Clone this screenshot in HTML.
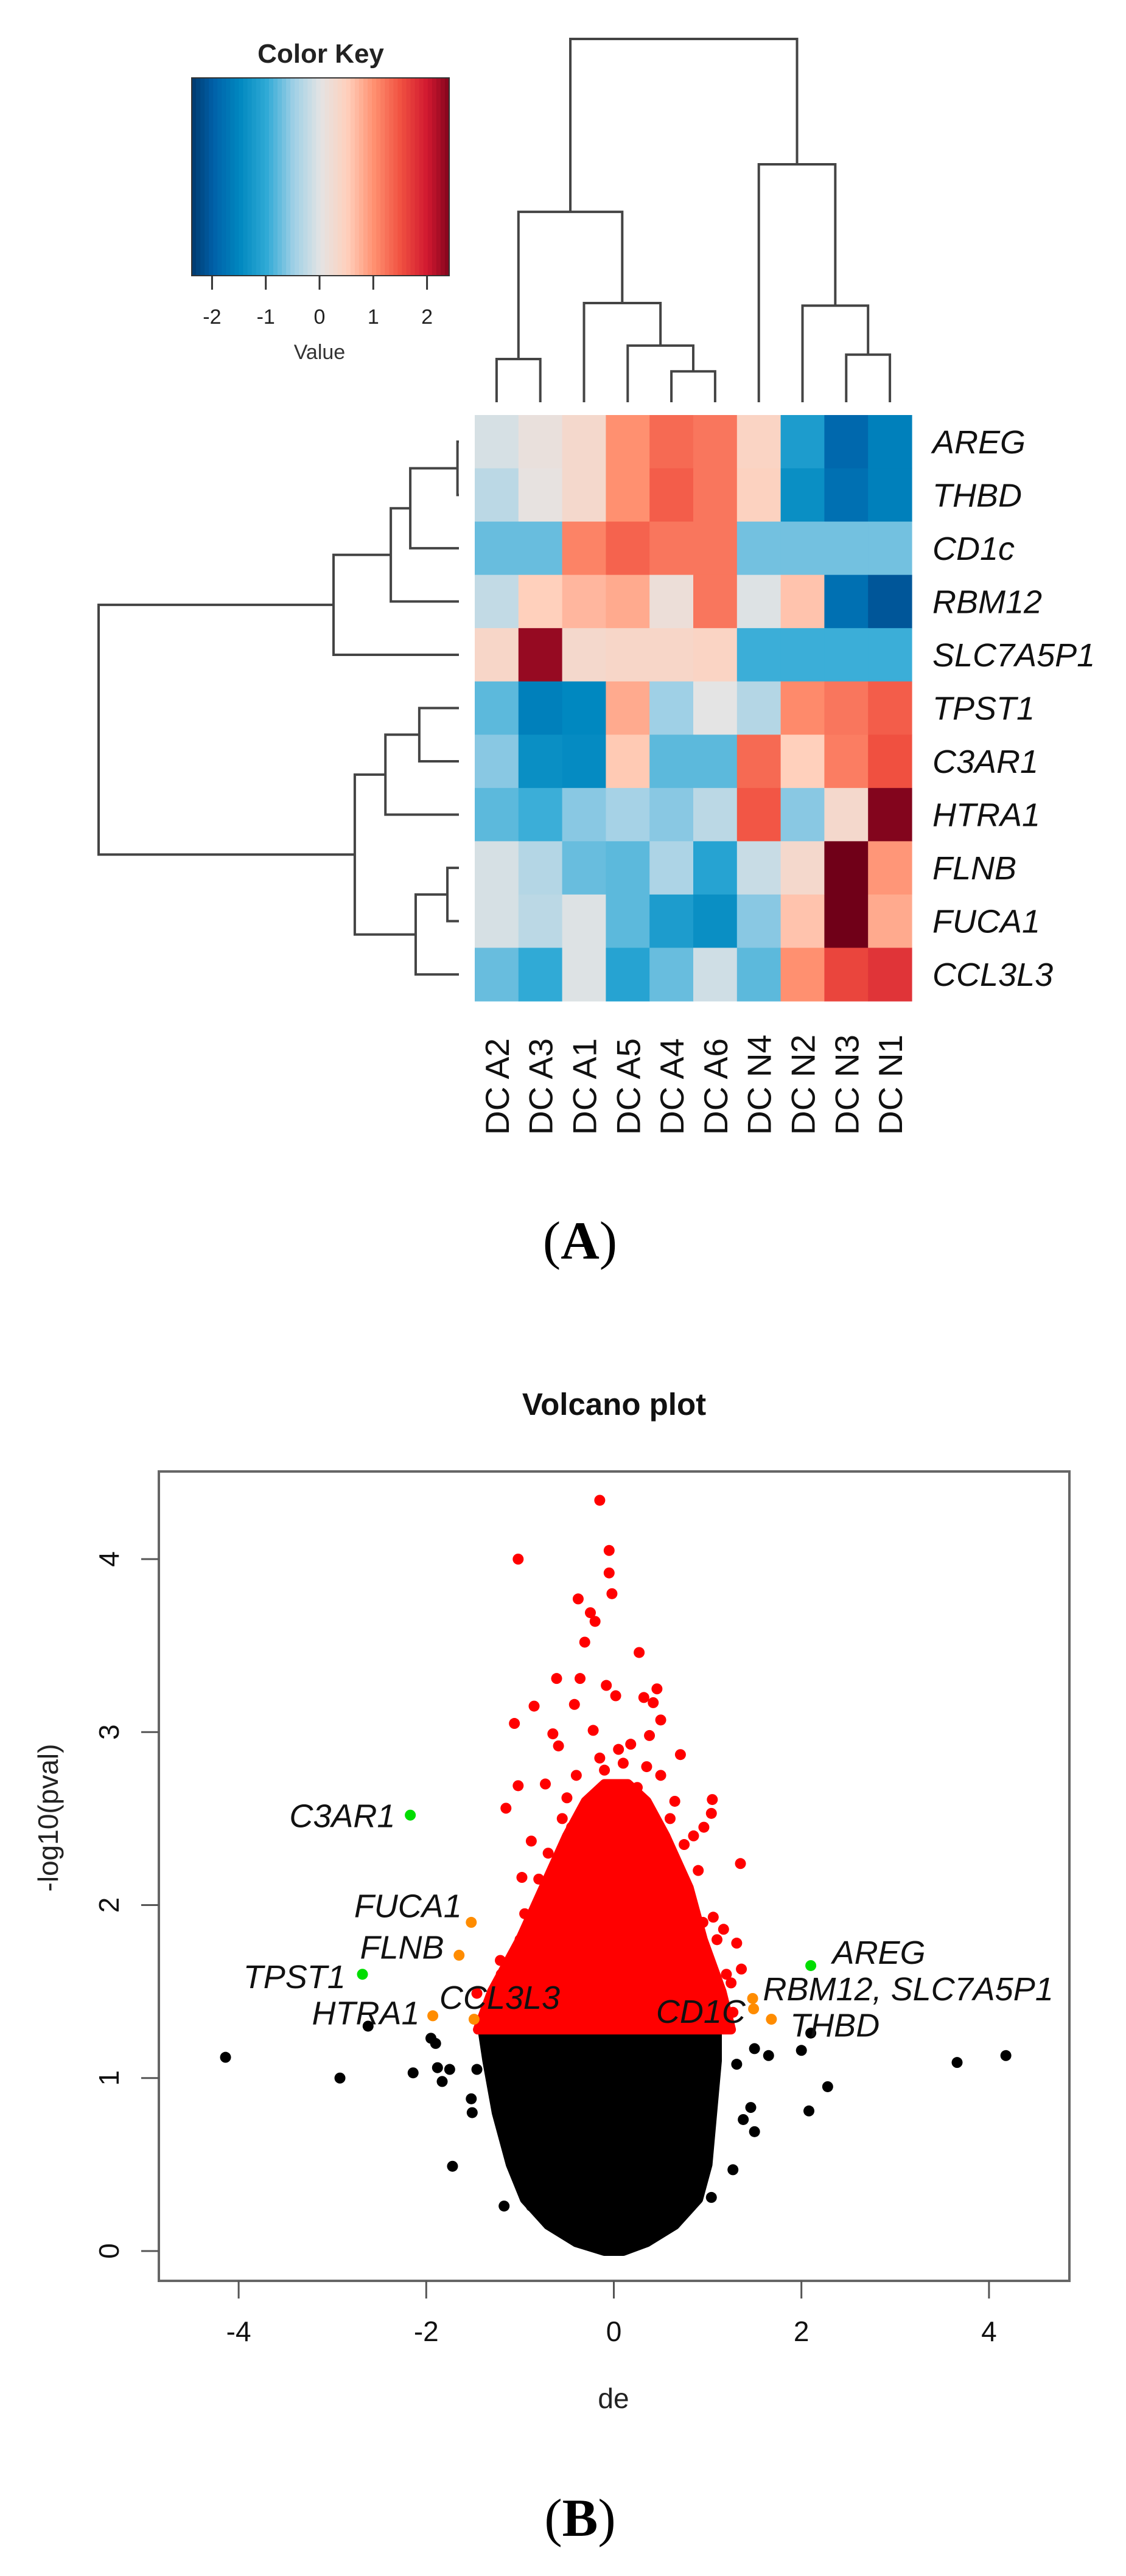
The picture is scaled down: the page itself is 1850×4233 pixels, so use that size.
<!DOCTYPE html>
<html><head><meta charset="utf-8">
<style>
html,body{margin:0;padding:0;background:#fff;}
svg{display:block;}
text{font-family:"Liberation Sans",sans-serif;}
text.serif{font-family:"Liberation Serif",serif;}
</style></head>
<body>
<svg id="fig" xmlns="http://www.w3.org/2000/svg" width="1850" height="4233" viewBox="0 0 1850 4233">
<rect x="0" y="0" width="1850" height="4233" fill="#fff"/>
<g id="heat"></g>
<g id="volc"></g>
</svg>
<script>
// ---------- Heatmap data ----------
const colLabels = ["DC A2","DC A3","DC A1","DC A5","DC A4","DC A6","DC N4","DC N2","DC N3","DC N1"];
const rowLabels = ["AREG","THBD","CD1c","RBM12","SLC7A5P1","TPST1","C3AR1","HTRA1","FLNB","FUCA1","CCL3L3"];
const heatValues = [
 [-0.1, 0.1, 0.3, 1.0, 1.3, 1.2, 0.4,-1.2,-1.9,-1.6],
 [-0.3, 0.05,0.3, 1.0, 1.4, 1.2, 0.45,-1.4,-1.8,-1.6],
 [-0.75,-0.75,1.1,1.35,1.2, 1.2,-0.7,-0.7,-0.7,-0.7],
 [-0.25,0.5, 0.7, 0.8, 0.15,1.2,-0.05,0.6,-1.8,-2.1],
 [0.35, 2.3, 0.3, 0.35,0.35,0.4,-0.95,-0.95,-0.95,-0.95],
 [-0.8,-1.6,-1.5, 0.8,-0.5, 0.0,-0.35,1.05,1.2, 1.4],
 [-0.6,-1.4,-1.45,0.55,-0.8,-0.8,1.3, 0.5, 1.15,1.5],
 [-0.8,-0.95,-0.6,-0.45,-0.6,-0.3,1.45,-0.6,0.3,2.4],
 [-0.1,-0.35,-0.75,-0.8,-0.4,-1.1,-0.2,0.3, 2.6, 0.95],
 [-0.1,-0.3,-0.05,-0.8,-1.2,-1.4,-0.6,0.6, 2.5, 0.8],
 [-0.75,-1.0,-0.05,-1.1,-0.75,-0.15,-0.8,1.0,1.6,1.75]
];
const colMerges = [[0,1,1.19],[4,5,0.85],[3,"n1",1.56],[2,"n2",2.73],["n0","n3",5.24],[8,9,1.31],[7,"n5",2.66],[6,"n6",6.55],["n4","n7",10]];
const rowMerges = [[0,1,0.04],["n0",2,1.35],["n1",3,1.89],["n2",4,3.48],[5,6,1.1],["n4",7,2.04],[8,9,0.32],["n6",10,1.2],["n5","n7",2.89],["n3","n8",10]];
const keyTicks = [-2,-1,0,1,2];

// ---------- Volcano data ----------
const xTicks = [-4,-2,0,2,4];
const yTicks = [0,1,2,3,4];
const blackCloud = [[0,-0.1,0.1],[0.05,-0.4,0.35],[0.15,-0.7,0.65],[0.3,-0.95,0.9],[0.5,-1.1,1.0],[0.8,-1.25,1.05],[1.1,-1.35,1.1],[1.28,-1.4,1.1]];
const redCloud = [[1.28,-1.45,1.25],[1.5,-1.3,1.15],[1.8,-1.0,0.95],[2.1,-0.75,0.8],[2.4,-0.5,0.55],[2.6,-0.3,0.35],[2.7,-0.1,0.15]];
const redDe = [-0.15,-0.05,-0.05,-0.02,-1.02,-0.38,-0.25,-0.2,-0.31,0.27,-0.61,-0.36,-0.08,0.02,0.46,0.32,0.42,-0.85,-0.42,-1.06,0.5,-0.65,-0.22,0.38,-0.59,0.71,0.18,-1.02,-0.73,1.05,-1.15,1.04,-0.88,0.96,1.35,-0.98,1.17,1.31,1.36,1.06,-1.12,-1.46,-1.21,1.27,
 -0.55,-0.45,-0.3,0.6,0.75,0.85,0.9,-0.7,-0.8,0.5,0.35,-0.4,-0.15,0.05,0.15,0.65,0.7,0.95,1.1,-0.95,-1.0,-1.2,1.2,1.25,-0.5,0.25,-0.1,0.1];
const redP  = [4.34,4.05,3.92,3.80,4.0,3.77,3.69,3.64,3.52,3.46,3.31,3.31,3.27,3.21,3.25,3.2,3.17,3.15,3.16,3.05,3.07,2.99,3.01,2.98,2.92,2.87,2.93,2.69,2.7,2.61,2.56,2.53,2.37,2.45,2.24,2.16,1.86,1.78,1.63,1.93,1.65,1.49,1.68,1.38,
 2.5,2.45,2.55,2.5,2.35,2.4,2.2,2.3,2.15,2.75,2.8,2.75,2.85,2.9,2.6,2.6,2.0,1.9,1.8,1.95,1.8,1.6,1.6,1.55,2.62,2.68,2.78,2.82];
const blackDe = [-4.14,-2.92,-2.62,-2.14,-1.95,-1.9,-1.88,-1.83,-1.75,-1.52,-1.51,-1.72,-1.46,-1.17,-0.88,3.66,4.18,2.0,2.1,2.28,2.08,1.65,1.5,1.27,1.5,1.38,1.31,1.04,0.54,1.46];
const blackP  = [1.12,1.0,1.3,1.03,1.23,1.2,1.06,0.98,1.05,0.88,0.8,0.49,1.05,0.26,0.26,1.09,1.13,1.16,1.26,0.95,0.81,1.13,1.17,0.47,0.69,0.76,1.08,0.31,0.12,0.83];
const greenDe = [-2.17,-2.68,2.1];
const greenP  = [2.52,1.60,1.65];
const orangeDe = [-1.52,-1.65,-1.93,-1.49,1.48,1.49,1.68];
const orangeP  = [1.90,1.71,1.36,1.34,1.46,1.40,1.34];
const geneLabels = ["C3AR1","FUCA1","FLNB","TPST1","HTRA1","CCL3L3","CD1C","RBM12, SLC7A5P1","THBD","AREG"];
const geneLabelDe = [-2.33,-1.62,-1.81,-2.86,-2.07,-1.86,0.45,1.59,1.88,2.33];
const geneLabelP  = [2.45,1.93,1.69,1.52,1.31,1.40,1.32,1.45,1.24,1.66];
const geneLabelAnchor = ["end","end","end","end","end","start","start","start","start","start"];

const NS="http://www.w3.org/2000/svg";
function mk(tag, attrs, parent){const e=document.createElementNS(NS,tag);for(const k in attrs)e.setAttribute(k,attrs[k]);parent.appendChild(e);return e;}

const cStops=[[-2.5,[0,48,95]],[-2,[0,96,168]],[-1.5,[0,136,192]],[-1,[48,170,214]],[-0.5,[159,208,230]],[0,[228,228,228]],[0.5,[255,208,188]],[1,[255,144,112]],[1.5,[240,80,64]],[2,[208,24,48]],[2.5,[112,0,24]]];
function color(v){v=Math.max(-2.5,Math.min(2.5,v));for(let i=0;i<cStops.length-1;i++){const a=cStops[i],b=cStops[i+1];if(v<=b[0]){const t=(v-a[0])/(b[0]-a[0]);const c=a[1].map((x,j)=>Math.round(x+(b[1][j]-x)*t));return `rgb(${c[0]},${c[1]},${c[2]})`;}}return "rgb(112,0,24)";}

// ---------- Draw heatmap ----------
const H=document.getElementById('heat');
const hx0=780,hx1=1498,hy0=682,hy1=1645;
const cw=(hx1-hx0)/colLabels.length, rh=(hy1-hy0)/rowLabels.length;
const colX=i=>hx0+(i+0.5)*cw, rowY=i=>hy0+(i+0.5)*rh;
heatValues.forEach((row,r)=>row.forEach((v,c)=>{
  const e=mk('rect',{x:hx0+c*cw,y:hy0+r*rh,width:cw+0.6,height:rh+0.6,fill:color(v)},H);
  
  
}));
rowLabels.forEach((l,r)=>{
  const t=mk('text',{x:1532,y:rowY(r)+19,'font-size':54,'font-style':'italic',fill:'#111'},H);t.textContent=l;
  
  
});
colLabels.forEach((l,c)=>{
  const x=colX(c)+20,y=1865;
  const t=mk('text',{x:x,y:y,'font-size':55,fill:'#111',transform:`rotate(-90 ${x} ${y})`},H);t.textContent=l;
  
  
});
function drawDendro(merges, leafPos, hToC, horizontal, name){
  const nodes=[];
  const g=mk('g',{stroke:'#444','stroke-width':4,fill:'none'},H);
  
  
  const get=k=>typeof k==='number'?{p:leafPos(k),h:0}:nodes[+k.slice(1)];
  merges.forEach(m=>{
    const a=get(m[0]),b=get(m[1]),h=m[2];
    const c=hToC(h), ca=hToC(a.h), cb=hToC(b.h);
    let d;
    if(!horizontal) d=`M${a.p},${ca}V${c}H${b.p}V${cb}`;
    else d=`M${ca},${a.p}H${c}V${b.p}H${cb}`;
    mk('path',{d:d},g);
    nodes.push({p:(a.p+b.p)/2,h:h});
  });
}
drawDendro(colMerges,colX,h=>661-h*59.7,false,'column-dendrogram');
drawDendro(rowMerges,rowY,h=>754-h*59.2,true,'row-dendrogram');
const kx0=315,kx1=738,ky0=128,ky1=453;
const keyX=v=>525+v*88.3;
const kg=mk('g',{},H);


for(let i=0;i<60;i++){
  const v0=-2.4+i*(4.8/60);
  mk('rect',{x:kx0+i*(kx1-kx0)/60,y:ky0,width:(kx1-kx0)/60+0.8,height:ky1-ky0,fill:color(v0+0.04)},kg);
}
mk('rect',{x:kx0,y:ky0,width:kx1-kx0,height:ky1-ky0,fill:'none',stroke:'#333','stroke-width':2},kg);
keyTicks.forEach(v=>{
  mk('line',{x1:keyX(v),x2:keyX(v),y1:ky1,y2:476,stroke:'#333','stroke-width':3},kg);
  const t=mk('text',{x:keyX(v),y:532,'font-size':34,'text-anchor':'middle',fill:'#222'},kg);t.textContent=String(v);
});
let tt=mk('text',{x:527,y:103,'font-size':44,'font-weight':'bold','text-anchor':'middle',fill:'#222'},kg);tt.textContent='Color Key';


tt=mk('text',{x:525,y:590,'font-size':34,'text-anchor':'middle',fill:'#333'},kg);tt.textContent='Value';
tt=mk('text',{x:953,y:2068,'font-size':88,'class':'serif','text-anchor':'middle',fill:'#000'},H);
tt.innerHTML='(<tspan font-weight="bold">A</tspan>)';



// ---------- Draw volcano ----------
const V=document.getElementById('volc');
const px0=261,px1=1757,py0=2418,py1=3748;
const xs=d=>1008.5+d*154.1, ys=p=>3699-p*284.25;
mk('rect',{x:px0,y:py0,width:px1-px0,height:py1-py0,fill:'none',stroke:'#666','stroke-width':4},V);
function cloud(arr,fill,name){
  let d='M'+arr.map(r=>`${xs(r[1])},${ys(r[0])}`).join('L');
  d+='L'+arr.slice().reverse().map(r=>`${xs(r[2])},${ys(r[0])}`).join('L')+'Z';
  const e=mk('path',{d:d,fill:fill,stroke:fill,'stroke-width':16,'stroke-linejoin':'round'},V);
  
  
}
cloud(blackCloud,'#000','nonsignificant-cloud');
cloud(redCloud,'#ff0000','significant-cloud');
function pts(de,p,fill,name){de.forEach((d,i)=>{
  const c=mk('circle',{cx:xs(d),cy:ys(p[i]),r:9,fill:fill},V);
  
  
});}
pts(blackDe,blackP,'#000','point-nonsignificant');
pts(redDe,redP,'#ff0000','point-significant');
pts(orangeDe,orangeP,'#ff8c00','point-highlight-orange');
pts(greenDe,greenP,'#00dd00','point-highlight-green');
geneLabels.forEach((l,i)=>{
  const t=mk('text',{x:xs(geneLabelDe[i]),y:ys(geneLabelP[i]),'font-size':54,'font-style':'italic','text-anchor':geneLabelAnchor[i],fill:'#111'},V);t.textContent=l;
  
  
});
xTicks.forEach(v=>{
  mk('line',{x1:xs(v),x2:xs(v),y1:py1,y2:3777,stroke:'#555','stroke-width':3},V);
  const t=mk('text',{x:xs(v),y:3847,'font-size':46,'text-anchor':'middle',fill:'#111'},V);t.textContent=v;
  
  
});
yTicks.forEach(v=>{
  mk('line',{x1:px0,x2:232,y1:ys(v),y2:ys(v),stroke:'#555','stroke-width':3},V);
  const t=mk('text',{x:195,y:ys(v),'font-size':46,'text-anchor':'middle',fill:'#111',transform:`rotate(-90 195 ${ys(v)})`},V);t.textContent=v;
  
  
});
tt=mk('text',{x:1009,y:2325,'font-size':51,'font-weight':'bold','text-anchor':'middle',fill:'#111'},V);tt.textContent='Volcano plot';


tt=mk('text',{x:1008,y:3957,'font-size':46,'text-anchor':'middle',fill:'#222'},V);tt.textContent='de';


tt=mk('text',{x:95,y:2987,'font-size':46,'text-anchor':'middle',fill:'#222',transform:'rotate(-90 95 2987)'},V);tt.textContent='-log10(pval)';


tt=mk('text',{x:953,y:4167,'font-size':88,'class':'serif','text-anchor':'middle',fill:'#000'},V);
tt.innerHTML='(<tspan font-weight="bold">B</tspan>)';


</script>
</body></html>
